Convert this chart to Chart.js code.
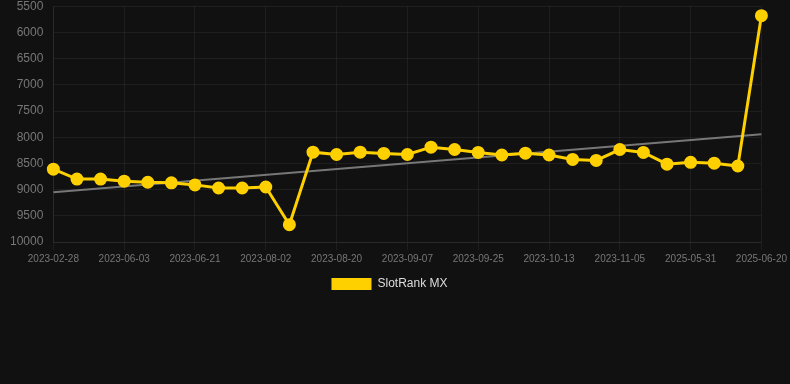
<!DOCTYPE html>
<html>
<head>
<meta charset="utf-8">
<script src="https://cdn.jsdelivr.net/npm/chart.js@4/dist/chart.umd.min.js"></script>
<style>
  html, body { margin: 0; padding: 0; background: #111111; overflow: hidden; }
  #wrap { width: 790px; height: 311px; position: relative; margin-top: -11px; }
</style>
</head>
<body>
<div id="wrap"><canvas id="c"></canvas></div>
<script>
const labels = [
  "2023-02-28","2023-05-22","2023-05-28","2023-06-03","2023-06-09","2023-06-15",
  "2023-06-21","2023-07-08","2023-07-20","2023-08-02","2023-08-08","2023-08-14",
  "2023-08-20","2023-08-26","2023-09-01","2023-09-07","2023-09-13","2023-09-19",
  "2023-09-25","2023-10-01","2023-10-07","2023-10-13","2023-10-21","2023-10-28",
  "2023-11-05","2024-03-10","2025-05-20","2025-05-31","2025-06-07","2025-06-14",
  "2025-06-20"
];
const rankValues = [
  8610, 8800, 8800, 8840, 8860, 8870, 8910, 8970, 8970, 8950,
  9670, 8285, 8330, 8285, 8310, 8330, 8190, 8235, 8290, 8340,
  8305, 8340, 8425, 8443, 8235, 8290, 8515, 8480, 8495, 8550,
  5680
];
const trendValues = [9050, 7945];
const yTicks = [5500, 6000, 6500, 7000, 7500, 8000, 8500, 9000, 9500, 10000];

const trendData = [
  { x: labels[0], y: trendValues[0] },
  { x: labels[labels.length - 1], y: trendValues[1] }
];

const FONT = 'Liberation Sans, Arial, sans-serif';
const GRID = 'rgba(255,255,255,0.055)';

new Chart(document.getElementById('c'), {
  type: 'line',
  data: {
    labels: labels,
    datasets: [
      {
        label: 'SlotRank MX',
        data: rankValues,
        borderColor: '#ffd000',
        backgroundColor: '#ffd000',
        borderWidth: 3,
        pointRadius: 5,
        pointHoverRadius: 5,
        pointBackgroundColor: '#ffd000',
        pointBorderColor: '#ffd000',
        tension: 0,
        order: 1
      },
      {
        label: 'trend',
        data: trendData,
        borderColor: '#777777',
        borderWidth: 2,
        pointRadius: 0,
        fill: false,
        order: 2
      }
    ]
  },
  options: {
    responsive: true,
    maintainAspectRatio: false,
    animation: false,
    layout: { autoPadding: false, padding: { top: 0, left: 0, right: 11, bottom: 0 } },
    plugins: {
      legend: {
        position: 'bottom',
        labels: {
          color: '#dddddd',
          font: { size: 12, family: FONT },
          boxWidth: 40,
          boxHeight: 12,
          generateLabels: (chart) => Chart.defaults.plugins.legend.labels.generateLabels(chart)
            .filter(it => it.text !== 'trend')
            .map(it => Object.assign(it, { lineWidth: 0 }))
        }
      },
      tooltip: { enabled: false }
    },
    scales: {
      x: {
        grid: { color: GRID, tickLength: 8 },
        border: { color: GRID },
        ticks: {
          color: '#777777',
          font: { size: 10, family: FONT },
          maxRotation: 0,
          autoSkip: true
        }
      },
      y: {
        reverse: true,
        min: 5500,
        max: 10000,
        afterBuildTicks: (axis) => { axis.ticks = yTicks.map(v => ({ value: v })); },
        grid: { color: GRID, drawTicks: false },
        border: { color: GRID },
        ticks: {
          color: '#777777',
          font: { size: 12, family: FONT },
          padding: 10,
          callback: (v) => String(v)
        }
      }
    }
  }
});
</script>
</body>
</html>
